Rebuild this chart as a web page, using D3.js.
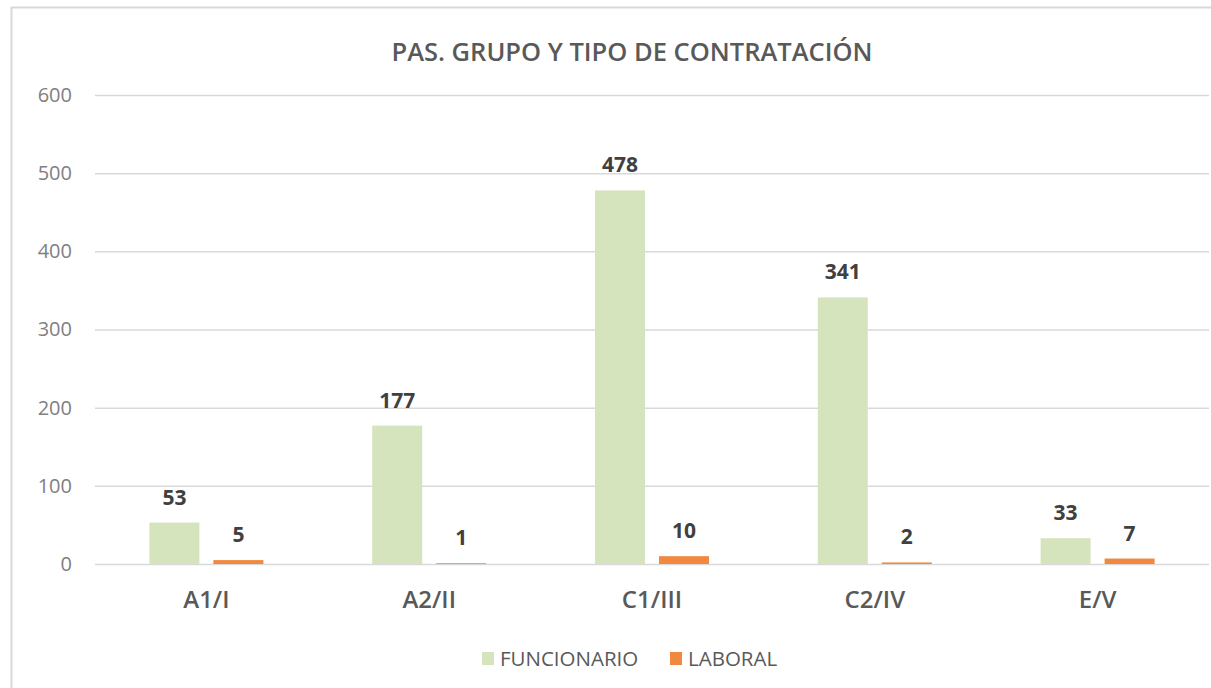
<!DOCTYPE html>
<html>
<head>
<meta charset="utf-8">
<script src="https://cdn.jsdelivr.net/npm/d3@7"></script>
<style>
  html, body { margin: 0; padding: 0; background: #fff; overflow: hidden; }
  svg { display: block; font-family: "Open Sans", "Noto Sans", sans-serif; }
</style>
</head>
<body>
<script>
// chart values
const categories = ["A1/I", "A2/II", "C1/III", "C2/IV", "E/V"];
const seriesNames = ["FUNCIONARIO", "LABORAL"];
const funcionario = [53, 177, 478, 341, 33];
const laboral = [5, 1, 10, 2, 7];
const yTicks = [0, 100, 200, 300, 400, 500, 600];
const chartTitle = "PAS. GRUPO Y TIPO DE CONTRATACIÓN";

const colors = { FUNCIONARIO: "#d6e4bd", LABORAL: "#f0893f" };

document.addEventListener("DOMContentLoaded", function () {
  const width = 1211, height = 688;
  const plot = { left: 95, right: 1209, top: 95, bottom: 564 };

  const rows = categories.map((c, i) => ({
    cat: c,
    FUNCIONARIO: funcionario[i],
    LABORAL: laboral[i]
  }));

  const svg = d3.select("body").append("svg")
    .attr("width", width)
    .attr("height", height);

  // chart frame (right and bottom edges are cut off in the picture)
  svg.append("path")
    .attr("d", `M11.5,${height} V7.5 H${width}`)
    .attr("fill", "none")
    .attr("stroke", "#d9d9d9")
    .attr("stroke-width", 2);

  const x0 = d3.scaleBand()
    .domain(categories)
    .range([plot.left, plot.right]);

  const x1 = d3.scaleBand()
    .domain(seriesNames)
    .range([-57, 57])
    .paddingInner(14 / 64);

  const y = d3.scaleLinear()
    .domain([0, 600])
    .range([plot.bottom, plot.top]);

  // gridlines + y labels
  const yAxis = svg.append("g")
    .attr("transform", `translate(${plot.left},0)`)
    .call(d3.axisLeft(y).tickValues(yTicks).tickSize(-(plot.right - plot.left)).tickPadding(23));
  yAxis.select(".domain").remove();
  yAxis.selectAll(".tick line").attr("stroke", "#d9d9d9").attr("stroke-width", 1.5);
  yAxis.selectAll(".tick text")
    .attr("fill", "#808080")
    .style("font-size", "20px")
    .style("font-family", "'Open Sans', sans-serif");

  // x labels
  const xAxis = svg.append("g")
    .attr("transform", `translate(0,${plot.bottom})`)
    .call(d3.axisBottom(x0).tickSize(0).tickPadding(27));
  xAxis.select(".domain").remove();
  xAxis.selectAll(".tick text")
    .attr("fill", "#595959")
    .style("font-size", "24px")
    .style("font-weight", "600")
    .style("font-family", "'Open Sans', sans-serif");

  // bars
  const groups = svg.append("g").selectAll("g")
    .data(rows)
    .join("g")
    .attr("transform", d => `translate(${x0(d.cat) + x0.bandwidth() / 2},0)`);

  groups.selectAll("rect")
    .data(d => seriesNames.map(s => ({ key: s, value: d[s] })))
    .join("rect")
    .attr("x", d => x1(d.key))
    .attr("width", x1.bandwidth())
    .attr("y", d => y(d.value))
    .attr("height", d => y(0) - y(d.value))
    .attr("fill", d => colors[d.key]);

  groups.selectAll("text.val")
    .data(d => seriesNames.map(s => ({ key: s, value: d[s] })))
    .join("text")
    .attr("class", "val")
    .attr("x", d => x1(d.key) + x1.bandwidth() / 2)
    .attr("y", d => y(d.value) - 18)
    .attr("text-anchor", "middle")
    .attr("fill", "#404040")
    .style("font-size", "21px")
    .style("font-weight", "700")
    .text(d => d.value);

  // title
  svg.append("text")
    .attr("x", 632).attr("y", 61)
    .attr("text-anchor", "middle")
    .attr("fill", "#595959")
    .style("font-size", "25.5px")
    .style("font-weight", "600")
    .text(chartTitle);

  // legend
  const legendX = [482, 670];
  const legend = svg.append("g").selectAll("g")
    .data(seriesNames)
    .join("g")
    .attr("transform", (d, i) => `translate(${legendX[i]},652)`);
  legend.append("rect")
    .attr("width", 12).attr("height", 13)
    .attr("fill", d => colors[d]);
  legend.append("text")
    .attr("x", 18).attr("y", 13.5)
    .attr("fill", "#595959")
    .style("font-size", "20.5px")
    .text(d => d);
});
</script>
</body>
</html>
